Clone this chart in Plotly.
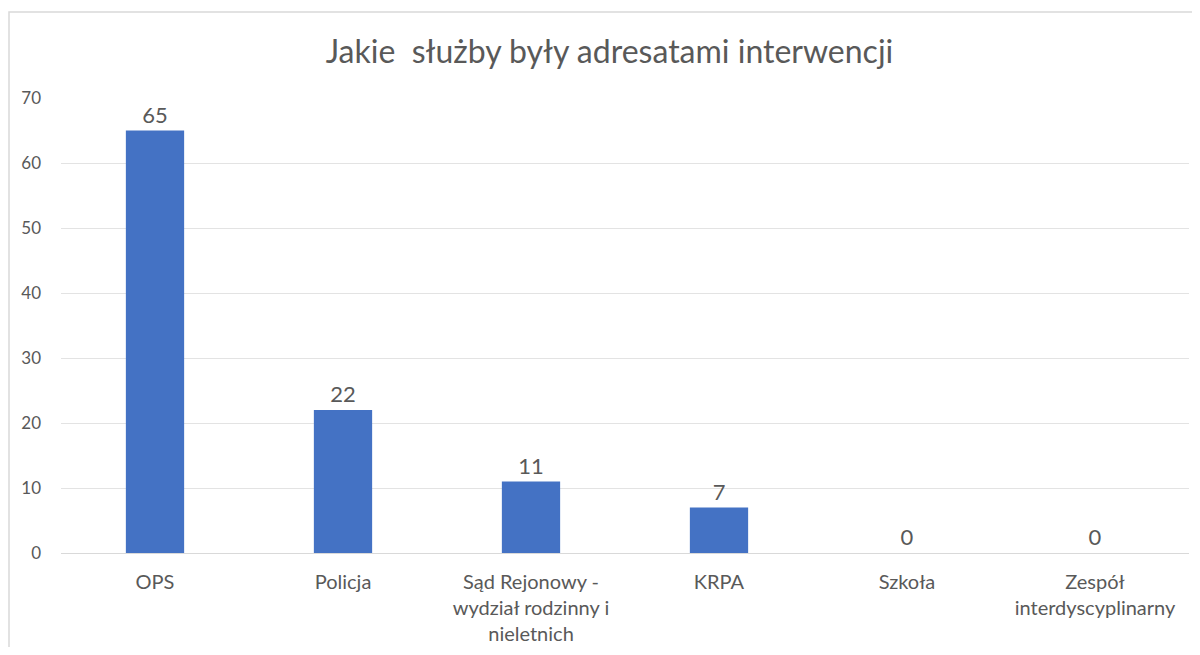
import plotly.graph_objects as go

categories = ['OPS', 'Policja', 'Sąd Rejonowy -<br>wydział rodzinny i<br>nieletnich', 'KRPA',
              'Szkoła', 'Zespół<br>interdyscyplinarny']
values = [65, 22, 11, 7, 0, 0]

FONT = 'Lato, Carlito, Calibri, sans-serif'
GREY = '#595959'

fig = go.Figure(go.Bar(
    x=categories,
    y=values,
    text=values,
    textposition='outside',
    cliponaxis=False,
    textfont=dict(size=22, color=GREY, family=FONT),
    marker=dict(color='#4472C4', line=dict(width=0)),
))

# page body has an 8px margin, so the figure is sized to fit the window
fig.update_layout(
    width=1184, height=639,
    margin=dict(l=53, r=3, t=90, b=94),
    paper_bgcolor='white',
    plot_bgcolor='white',
    bargap=0.69,
    showlegend=False,
    title=dict(text='Jakie\u00a0 służby były adresatami interwencji',
               x=0.508, xanchor='center', y=0.931, yanchor='middle',
               font=dict(size=32, color=GREY, family=FONT)),
    font=dict(family=FONT, color=GREY),
    shapes=[dict(type='rect', xref='paper', yref='paper',
                 x0=-0.0461, x1=1.2, y0=-0.4, y1=1.189,
                 line=dict(color='#d9d9d9', width=1.5), layer='below')],
)

fig.update_xaxes(
    showgrid=False,
    showline=True, linecolor='#d9d9d9', linewidth=1,
    ticks='', tickfont=dict(size=20, color=GREY),
    ticklabelstandoff=11,
)
fig.update_yaxes(
    range=[0, 70], dtick=10,
    showgrid=True, gridcolor='#e3e3e3', gridwidth=1,
    zeroline=False, showline=False,
    ticks='', tickfont=dict(size=17, color=GREY),
    ticklabelstandoff=19,
)

fig.write_html('out.html')
